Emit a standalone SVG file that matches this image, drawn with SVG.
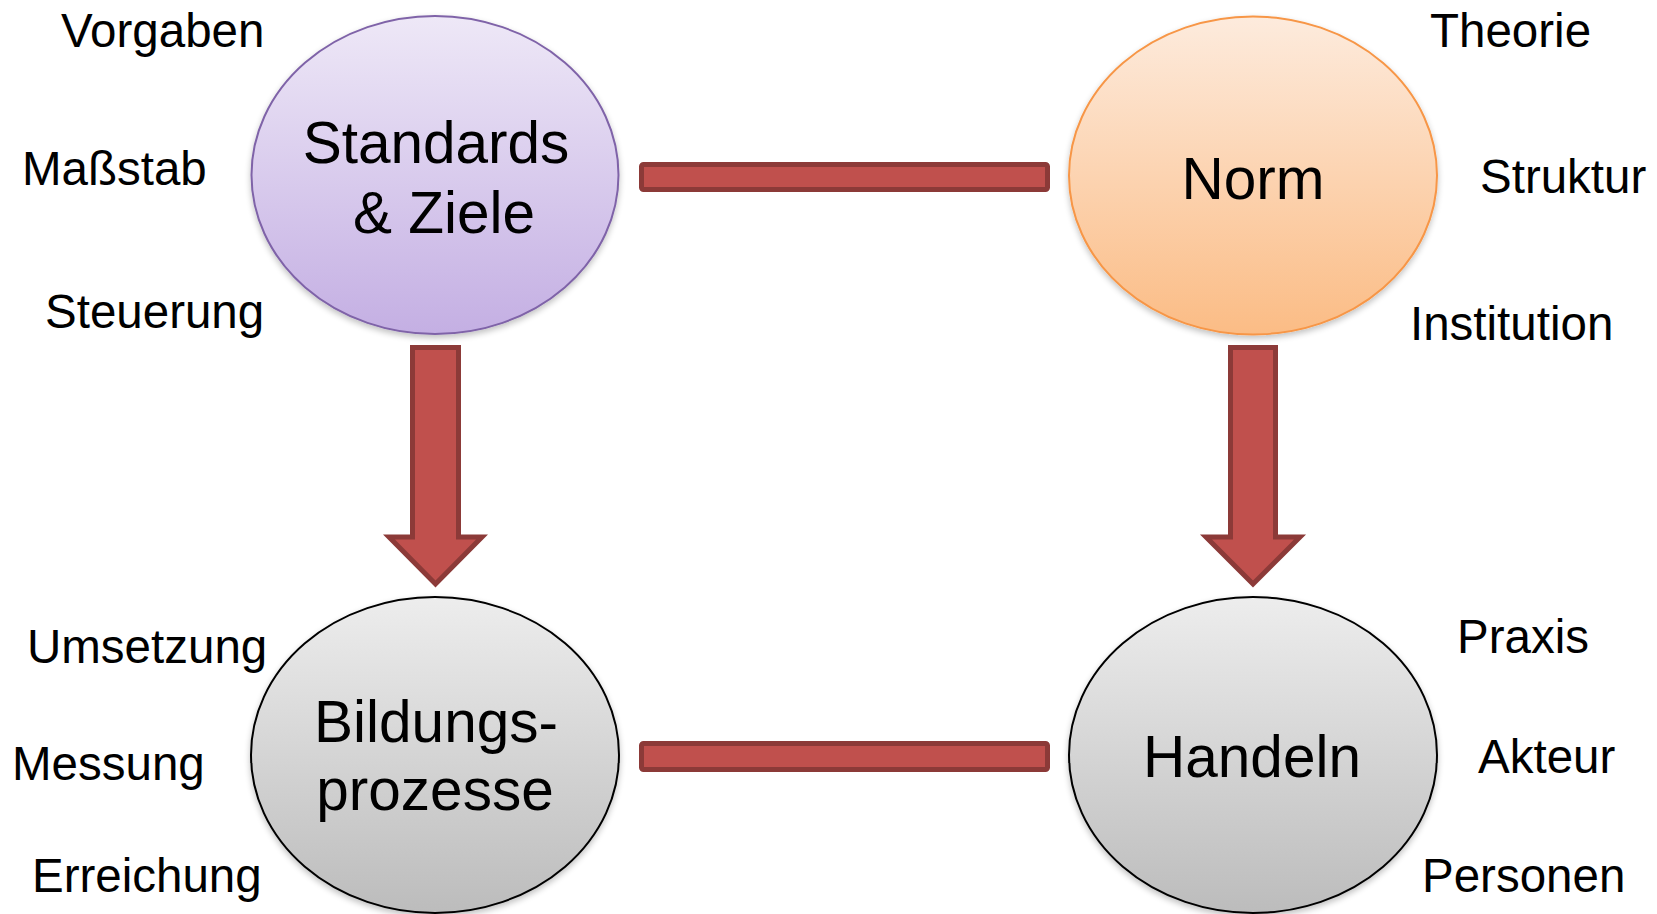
<svg xmlns="http://www.w3.org/2000/svg" width="1657" height="914" viewBox="0 0 1657 914">
<style>
  .lbl { font-family: "Liberation Sans", Arial, sans-serif; font-size: 47.5px; fill: #000; }
  .title { font-family: "Liberation Sans", Arial, sans-serif; font-size: 58.5px; fill: #000; text-anchor: middle; }
  .conn { fill: #C0504D; stroke: #8C3A38; stroke-width: 5; stroke-linejoin: miter; }
</style>
<defs>
  <linearGradient id="gPurple" x1="0" y1="0" x2="0" y2="1">
    <stop offset="0" stop-color="#EEE8F7"/>
    <stop offset="1" stop-color="#C4AFE3"/>
  </linearGradient>
  <linearGradient id="gOrange" x1="0" y1="0" x2="0" y2="1">
    <stop offset="0" stop-color="#FDEBDD"/>
    <stop offset="1" stop-color="#FBBC85"/>
  </linearGradient>
  <linearGradient id="gGrey" x1="0" y1="0" x2="0" y2="1">
    <stop offset="0" stop-color="#EDEDED"/>
    <stop offset="1" stop-color="#BCBCBC"/>
  </linearGradient>
  <filter id="shadow" x="-10%" y="-10%" width="120%" height="125%">
    <feGaussianBlur in="SourceAlpha" stdDeviation="3"/>
    <feOffset dx="0" dy="3" result="b"/>
    <feComponentTransfer><feFuncA type="linear" slope="0.25"/></feComponentTransfer>
    <feMerge><feMergeNode/><feMergeNode in="SourceGraphic"/></feMerge>
  </filter>
</defs>
<rect width="1657" height="914" fill="#FFFFFF"/>

<g id="connectors">
  <rect class="conn" x="641.5" y="164.5" width="406" height="25" rx="2"/>
  <rect class="conn" x="641.5" y="743.5" width="406" height="26" rx="2"/>
  <path class="conn" d="M412.5,347.5 H458.5 V537 H482 L435.5,584 L389,537 H412.5 Z"/>
  <path class="conn" d="M1230.5,347.5 H1275.5 V537 H1300 L1253,584 L1206,537 H1230.5 Z"/>
</g>

<g id="node-standards">
  <ellipse cx="435" cy="175" rx="183.5" ry="159" fill="url(#gPurple)" stroke="#7F63A8" stroke-width="2" filter="url(#shadow)"/>
  <text class="title" x="436" y="163">Standards</text>
  <text class="title" x="444" y="233">&amp; Ziele</text>
</g>

<g id="node-norm">
  <ellipse cx="1253" cy="175.5" rx="184" ry="159" fill="url(#gOrange)" stroke="#F79646" stroke-width="2" filter="url(#shadow)"/>
  <text class="title" x="1253" y="199">Norm</text>
</g>

<g id="node-bildung">
  <ellipse cx="435" cy="755" rx="184" ry="158" fill="url(#gGrey)" stroke="#000000" stroke-width="2" filter="url(#shadow)"/>
  <text class="title" x="436" y="742">Bildungs-</text>
  <text class="title" x="435" y="810">prozesse</text>
</g>

<g id="node-handeln">
  <ellipse cx="1253" cy="755" rx="184" ry="158" fill="url(#gGrey)" stroke="#000000" stroke-width="2" filter="url(#shadow)"/>
  <text class="title" x="1252" y="777">Handeln</text>
</g>

<g id="labels-standards">
  <text class="lbl" x="61" y="47">Vorgaben</text>
  <text class="lbl" x="22" y="185">Maßstab</text>
  <text class="lbl" x="45" y="328">Steuerung</text>
</g>
<g id="labels-norm">
  <text class="lbl" x="1430" y="47">Theorie</text>
  <text class="lbl" x="1480" y="193">Struktur</text>
  <text class="lbl" x="1410" y="340">Institution</text>
</g>
<g id="labels-bildung">
  <text class="lbl" x="27" y="663">Umsetzung</text>
  <text class="lbl" x="12" y="780">Messung</text>
  <text class="lbl" x="32" y="892">Erreichung</text>
</g>
<g id="labels-handeln">
  <text class="lbl" x="1457" y="653">Praxis</text>
  <text class="lbl" x="1478" y="773">Akteur</text>
  <text class="lbl" x="1422" y="892">Personen</text>
</g>
</svg>
